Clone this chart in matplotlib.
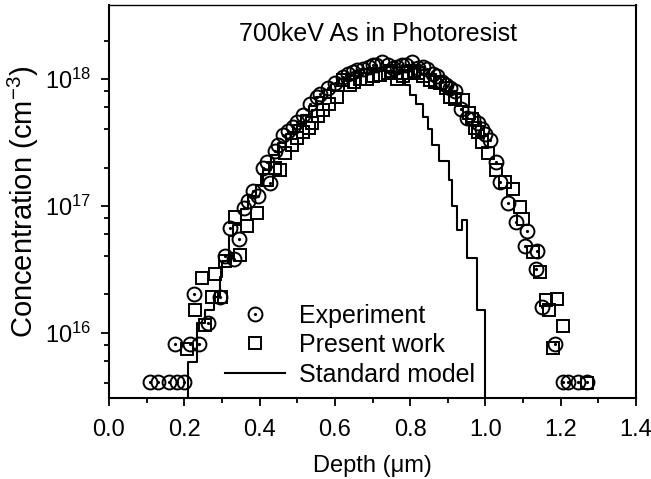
import numpy as np
import matplotlib.pyplot as plt
from matplotlib.ticker import LogLocator, NullFormatter, MultipleLocator

plt.rcParams['font.family'] = ['Liberation Sans', 'DejaVu Sans']
plt.rcParams['mathtext.default'] = 'regular'

# Experiment (open circles with centre dot)
exp_x = [0.11, 0.13, 0.16, 0.18, 0.20, 0.175, 0.215, 0.24, 0.227, 0.264,
         0.295, 0.309, 0.332, 0.322, 0.346, 0.359, 0.383, 0.396, 0.41, 0.428,
         0.441, 0.463, 0.49, 0.516, 0.535, 0.553, 0.582, 0.622, 0.649, 0.675,
         0.70, 0.726, 0.755, 0.779, 0.806, 0.82, 0.846, 0.872, 0.894, 0.92,
         0.934, 0.952, 0.968, 1.0, 1.013, 1.027, 1.04, 1.061, 1.08, 1.11,
         1.105, 1.138, 1.133, 1.15, 1.186, 1.205, 1.22, 1.245, 1.27,
         0.37, 0.42, 0.45, 0.475, 0.50, 0.56, 0.60, 0.635, 0.66, 0.69,
         0.71, 0.74, 0.765, 0.79, 0.835, 0.86, 0.885, 0.905, 0.98, 0.99]
exp_y = [4.1e15, 4.1e15, 4.1e15, 4.1e15, 4.1e15, 8.2e15, 8.2e15, 8.2e15, 2.0e16, 1.2e16,
         1.9e16, 4.0e16, 3.8e16, 6.7e16, 5.5e16, 9.6e16, 1.3e17, 1.2e17, 2.0e17, 1.5e17,
         2.7e17, 3.6e17, 4.2e17, 5.2e17, 6.3e17, 7.2e17, 8.5e17, 1.04e18, 1.14e18, 1.2e18,
         1.3e18, 1.35e18, 1.23e18, 1.29e18, 1.35e18, 1.23e18, 1.2e18, 1.05e18, 9.0e17, 8.0e17,
         5.8e17, 4.9e17, 4.8e17, 3.7e17, 3.3e17, 2.2e17, 1.55e17, 1.05e17, 7.4e16, 6.3e16,
         4.8e16, 4.4e16, 3.2e16, 1.6e16, 8.1e15, 4.1e15, 4.1e15, 4.1e15, 4.1e15,
         1.1e17, 2.2e17, 3.0e17, 3.9e17, 4.6e17, 7.6e17, 9.3e17, 1.1e18, 1.17e18, 1.25e18,
         1.3e18, 1.3e18, 1.25e18, 1.3e18, 1.25e18, 1.1e18, 9.5e17, 8.5e17, 4.5e17, 4.0e17]

# Present work (open squares)
pw_x = [0.207, 0.229, 0.255, 0.247, 0.282, 0.274, 0.298, 0.309, 0.348, 0.335,
        0.367, 0.393, 0.455, 0.468, 0.516, 0.54, 0.569, 0.606, 0.622, 0.641,
        0.668, 0.70, 0.74, 0.766, 0.795, 0.82, 0.854, 0.88, 0.907, 0.94,
        0.955, 0.973, 0.99, 1.007, 1.027, 1.053, 1.074, 1.093, 1.10, 1.127,
        1.146, 1.16, 1.19, 1.17, 1.207, 1.18, 1.27,
        0.42, 0.44, 0.485, 0.50, 0.53, 0.555, 0.585, 0.65, 0.685, 0.72,
        0.75, 0.78, 0.81, 0.835, 0.865, 0.895, 0.92, 0.965, 0.98]
pw_y = [7.4e15, 1.5e16, 1.15e16, 2.7e16, 2.9e16, 1.9e16, 1.9e16, 3.7e16, 4.1e16, 8.1e16,
        6.9e16, 8.7e16, 1.9e17, 2.6e17, 3.8e17, 4.5e17, 5.7e17, 7.2e17, 9.8e17, 9.0e17,
        1.0e18, 1.05e18, 1.12e18, 1.0e18, 1.12e18, 1.12e18, 9.8e17, 9.3e17, 7.2e17, 6.8e17,
        5.4e17, 4.1e17, 3.2e17, 2.6e17, 1.9e17, 1.55e17, 1.35e17, 9.8e16, 7.8e16, 4.3e16,
        3.0e16, 1.8e16, 1.85e16, 1.5e16, 1.12e16, 7.6e15, 4.0e15,
        1.6e17, 2.0e17, 3.0e17, 3.4e17, 4.1e17, 5.1e17, 6.3e17, 9.4e17, 1.0e18, 1.08e18,
        1.15e18, 1.05e18, 1.15e18, 1.05e18, 9.5e17, 8.5e17, 7.0e17, 4.8e17, 3.8e17]

# Standard model (step profile, value holds until next x)
std_x = [0.21, 0.21, 0.233, 0.255, 0.28, 0.295, 0.30, 0.32, 0.33, 0.35,
         0.37, 0.39, 0.41, 0.43, 0.45, 0.47, 0.49, 0.51, 0.53, 0.55,
         0.57, 0.59, 0.61, 0.63, 0.65, 0.67, 0.69, 0.71, 0.73, 0.76,
         0.785, 0.80, 0.815, 0.835, 0.848, 0.858, 0.876, 0.902, 0.911, 0.925,
         0.938, 0.951, 0.978, 1.0, 1.0]
std_y = [3.0e15, 5.9e15, 1.2e16, 1.5e16, 1.9e16, 2.75e16, 3.7e16, 5.8e16, 7.0e16, 9.5e16,
         1.2e17, 1.45e17, 1.9e17, 2.5e17, 3.1e17, 3.7e17, 4.3e17, 5.2e17, 6.1e17, 7.2e17,
         8.2e17, 9.2e17, 1.0e18, 1.08e18, 1.15e18, 1.2e18, 1.22e18, 1.2e18, 1.15e18, 1.0e18,
         9.0e17, 7.5e17, 6.3e17, 5.0e17, 4.0e17, 3.0e17, 2.25e17, 1.6e17, 1.0e17, 6.5e16,
         7.7e16, 3.9e16, 1.5e16, 1.5e16, 3.0e15]

fig = plt.figure(figsize=(6.51, 4.79), dpi=100)
ax = fig.add_axes([0.1674, 0.169, 0.8096, 0.8206])

line_std, = ax.step(std_x, std_y, where='post', color='black', lw=1.5)
circ, = ax.plot(exp_x, exp_y, 'o', ms=10, mfc='none', mec='black', mew=1.4)
dot, = ax.plot(exp_x, exp_y, 'o', ms=2.3, color='black', mew=0)
sq, = ax.plot(pw_x, pw_y, 's', ms=8, mfc='none', mec='black', mew=1.4)

ax.set_yscale('log')
ax.set_xlim(0.0, 1.4)
ax.set_ylim(3.05e15, 3.83e18)
ax.xaxis.set_major_locator(MultipleLocator(0.2))
ax.xaxis.set_minor_locator(MultipleLocator(0.1))
ax.xaxis.set_major_formatter(plt.FuncFormatter(lambda v, p: f'{v:.1f}'))
ax.yaxis.set_major_locator(LogLocator(base=10, numticks=10))
ax.yaxis.set_minor_locator(LogLocator(base=10, subs=(2, 4, 6, 8), numticks=10))
ax.yaxis.set_minor_formatter(NullFormatter())

ax.tick_params(which='both', direction='out', top=False, right=False, width=1.3)
ax.tick_params(which='major', length=6, labelsize=17)
ax.tick_params(which='minor', length=3.5)
ax.tick_params(axis='x', pad=9)
ax.tick_params(axis='y', pad=7)
for s in ax.spines.values():
    s.set_linewidth(1.5)
ax.spines['top'].set_linewidth(1.0)

ax.set_xlabel('Depth (\u03bcm)', fontsize=17, labelpad=10)
ax.set_ylabel('Concentration (cm$^{-3}$)', fontsize=21, labelpad=3)
ax.text(0.51, 0.925, '700keV As in Photoresist', transform=ax.transAxes,
        ha='center', va='center', fontsize=18)

ax.legend([(circ, dot), sq, line_std],
          ['Experiment', 'Present work', 'Standard model'],
          loc='upper left', bbox_to_anchor=(0.22, 0.24), frameon=False,
          fontsize=18, handlelength=2.4, handletextpad=0.55,
          labelspacing=0.22, borderpad=0, borderaxespad=0)

fig.savefig('out.png', dpi=100)
